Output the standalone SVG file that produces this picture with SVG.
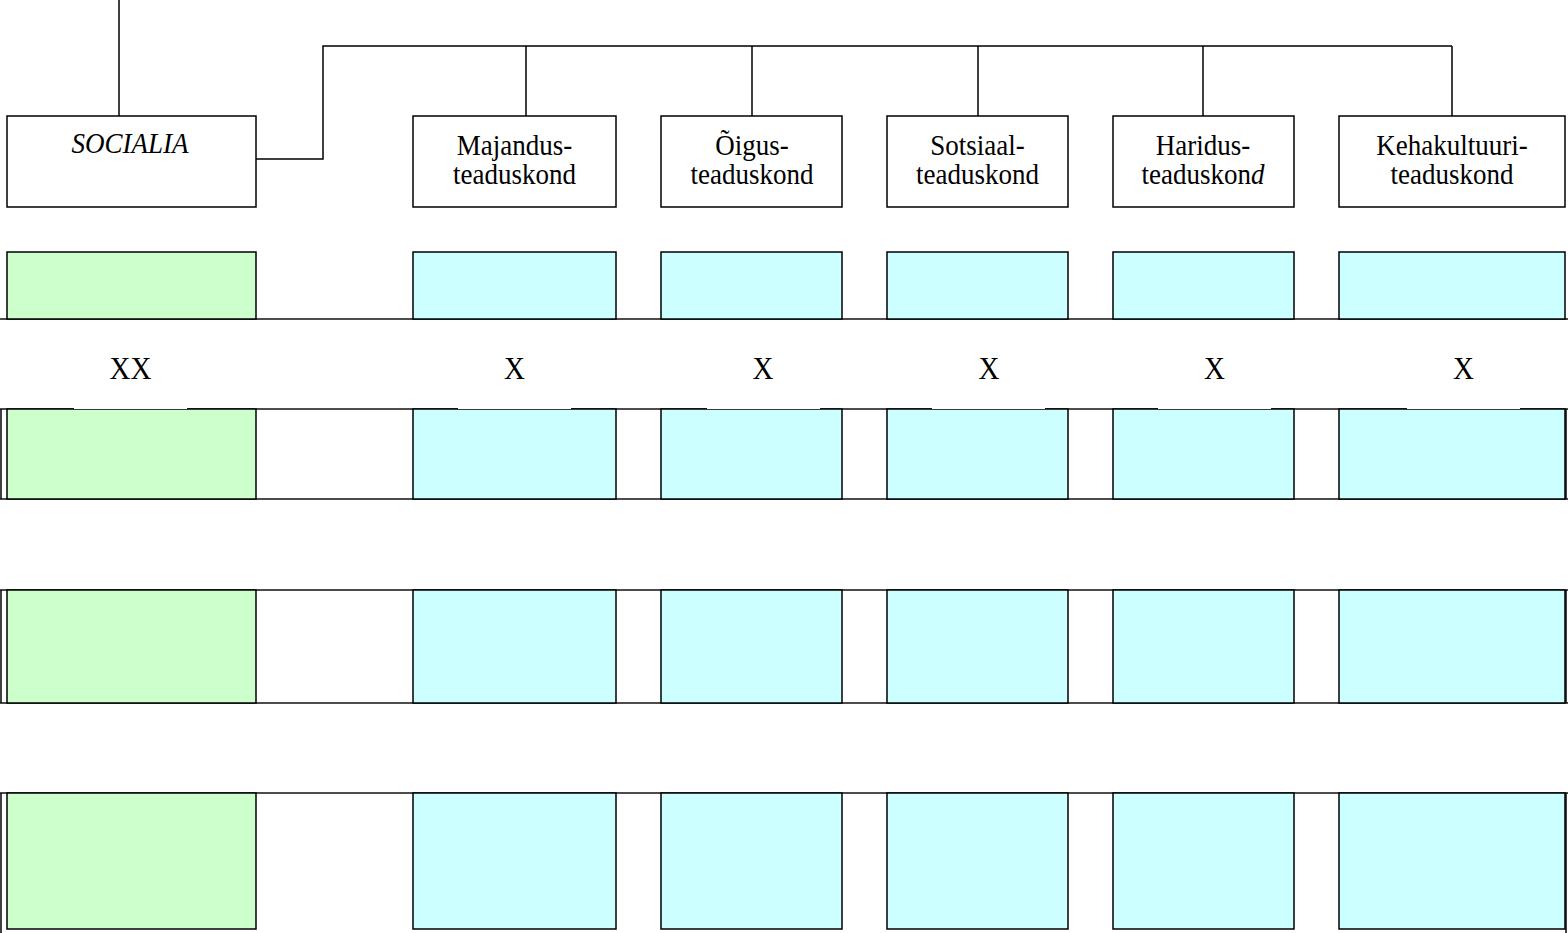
<svg xmlns="http://www.w3.org/2000/svg" width="1568" height="933" viewBox="0 0 1568 933">
  <style>
    .box { fill: #ffffff; stroke: #000000; stroke-width: 1.5; }
    .green { fill: #ccffcc; stroke: #000000; stroke-width: 1.5; }
    .cyan { fill: #ccffff; stroke: #000000; stroke-width: 1.5; }
    .line { fill: none; stroke: #000000; stroke-width: 1.5; }
    .rule { fill: none; stroke: #111111; stroke-width: 1.6; }
    .gap { fill: #ffffff; stroke: none; }
    text { font-family: "Liberation Serif", "Times New Roman", serif; fill: #000000; text-anchor: middle; }
    .lbl { font-size: 27px; }
    .it { font-style: italic; }
    .mark { font-size: 29px; }
  </style>

  <!-- row rules and side frames (drawn first, boxes sit on top) -->
  <g id="rows">
    <line class="rule" x1="0" y1="319" x2="1568" y2="319"/>
    <line class="rule" x1="0" y1="409" x2="1568" y2="409"/>
    <line class="rule" x1="0" y1="499" x2="1568" y2="499"/>
    <line class="rule" x1="0" y1="590" x2="1568" y2="590"/>
    <line class="rule" x1="0" y1="703" x2="1568" y2="703"/>
    <line class="rule" x1="0" y1="793" x2="1568" y2="793"/>
    <line class="rule" x1="1" y1="409" x2="1" y2="499"/>
    <line class="rule" x1="1" y1="590" x2="1" y2="703"/>
    <line class="rule" x1="1" y1="793" x2="1" y2="933"/>
    <line class="rule" x1="1566" y1="409" x2="1566" y2="499"/>
    <line class="rule" x1="1566" y1="590" x2="1566" y2="703"/>
    <line class="rule" x1="1566" y1="793" x2="1566" y2="933"/>
  </g>

  <!-- connectors -->
  <g id="connectors">
    <line class="line" x1="119" y1="0" x2="119" y2="116"/>
    <polyline class="line" points="256,159 323,159 323,46 1452,46"/>
    <line class="line" x1="526" y1="46" x2="526" y2="116"/>
    <line class="line" x1="752" y1="46" x2="752" y2="116"/>
    <line class="line" x1="978" y1="46" x2="978" y2="116"/>
    <line class="line" x1="1203" y1="46" x2="1203" y2="116"/>
    <line class="line" x1="1452" y1="46" x2="1452" y2="116"/>
  </g>

  <!-- top-level units -->
  <g id="socialia">
    <rect class="box" x="7" y="116" width="249" height="91"/>
    <text class="lbl it" transform="translate(130,153) scale(1,1.1)">SOCIALIA</text>
  </g>
  <g id="majandus">
    <rect class="box" x="413" y="116" width="203" height="91"/>
    <text class="lbl" transform="translate(514.5,155) scale(1,1.1)">Majandus-</text>
    <text class="lbl" transform="translate(514.5,184) scale(1,1.1)">teaduskond</text>
  </g>
  <g id="oigus">
    <rect class="box" x="661" y="116" width="181" height="91"/>
    <text class="lbl" transform="translate(752,155) scale(1,1.1)">Õigus-</text>
    <text class="lbl" transform="translate(752,184) scale(1,1.1)">teaduskond</text>
  </g>
  <g id="sotsiaal">
    <rect class="box" x="887" y="116" width="181" height="91"/>
    <text class="lbl" transform="translate(977.5,155) scale(1,1.1)">Sotsiaal-</text>
    <text class="lbl" transform="translate(977.5,184) scale(1,1.1)">teaduskond</text>
  </g>
  <g id="haridus">
    <rect class="box" x="1113" y="116" width="181" height="91"/>
    <text class="lbl" transform="translate(1203,155) scale(1,1.1)">Haridus-</text>
    <text class="lbl" transform="translate(1203,184) scale(1,1.1)">teaduskon<tspan class="it">d</tspan></text>
  </g>
  <g id="kehakultuur">
    <rect class="box" x="1339" y="116" width="226" height="91"/>
    <text class="lbl" transform="translate(1452,155) scale(1,1.1)">Kehakultuuri-</text>
    <text class="lbl" transform="translate(1452,184) scale(1,1.1)">teaduskond</text>
  </g>

  <!-- row 1 cells -->
  <g id="r1-socialia"><rect class="green" x="7" y="252" width="249" height="67"/></g>
  <g id="r1-majandus"><rect class="cyan" x="413" y="252" width="203" height="67"/></g>
  <g id="r1-oigus"><rect class="cyan" x="661" y="252" width="181" height="67"/></g>
  <g id="r1-sotsiaal"><rect class="cyan" x="887" y="252" width="181" height="67"/></g>
  <g id="r1-haridus"><rect class="cyan" x="1113" y="252" width="181" height="67"/></g>
  <g id="r1-kehakultuur"><rect class="cyan" x="1339" y="252" width="226" height="67"/></g>

  <!-- row 2 cells -->
  <g id="r2-socialia"><rect class="green" x="7" y="409" width="249" height="90"/></g>
  <g id="r2-majandus"><rect class="cyan" x="413" y="409" width="203" height="90"/></g>
  <g id="r2-oigus"><rect class="cyan" x="661" y="409" width="181" height="90"/></g>
  <g id="r2-sotsiaal"><rect class="cyan" x="887" y="409" width="181" height="90"/></g>
  <g id="r2-haridus"><rect class="cyan" x="1113" y="409" width="181" height="90"/></g>
  <g id="r2-kehakultuur"><rect class="cyan" x="1339" y="409" width="226" height="90"/></g>

  <!-- row 3 cells -->
  <g id="r3-socialia"><rect class="green" x="7" y="590" width="249" height="113"/></g>
  <g id="r3-majandus"><rect class="cyan" x="413" y="590" width="203" height="113"/></g>
  <g id="r3-oigus"><rect class="cyan" x="661" y="590" width="181" height="113"/></g>
  <g id="r3-sotsiaal"><rect class="cyan" x="887" y="590" width="181" height="113"/></g>
  <g id="r3-haridus"><rect class="cyan" x="1113" y="590" width="181" height="113"/></g>
  <g id="r3-kehakultuur"><rect class="cyan" x="1339" y="590" width="226" height="113"/></g>

  <!-- row 4 cells -->
  <g id="r4-socialia"><rect class="green" x="7" y="793" width="249" height="136"/></g>
  <g id="r4-majandus"><rect class="cyan" x="413" y="793" width="203" height="136"/></g>
  <g id="r4-oigus"><rect class="cyan" x="661" y="793" width="181" height="136"/></g>
  <g id="r4-sotsiaal"><rect class="cyan" x="887" y="793" width="181" height="136"/></g>
  <g id="r4-haridus"><rect class="cyan" x="1113" y="793" width="181" height="136"/></g>
  <g id="r4-kehakultuur"><rect class="cyan" x="1339" y="793" width="226" height="136"/></g>

  <!-- count marks on white label plates -->
  <g id="marks">
    <rect class="gap" x="74" y="330" width="113" height="79"/>
    <rect class="gap" x="458" y="330" width="113" height="79"/>
    <rect class="gap" x="707" y="330" width="113" height="79"/>
    <rect class="gap" x="932" y="330" width="113" height="79"/>
    <rect class="gap" x="1158" y="330" width="113" height="79"/>
    <rect class="gap" x="1407" y="330" width="113" height="79"/>
    <text class="mark" transform="translate(130.5,379) scale(1,1.1)">XX</text>
    <text class="mark" transform="translate(514.5,379) scale(1,1.1)">X</text>
    <text class="mark" transform="translate(763,379) scale(1,1.1)">X</text>
    <text class="mark" transform="translate(989,379) scale(1,1.1)">X</text>
    <text class="mark" transform="translate(1214.5,379) scale(1,1.1)">X</text>
    <text class="mark" transform="translate(1463.5,379) scale(1,1.1)">X</text>
  </g>
</svg>
